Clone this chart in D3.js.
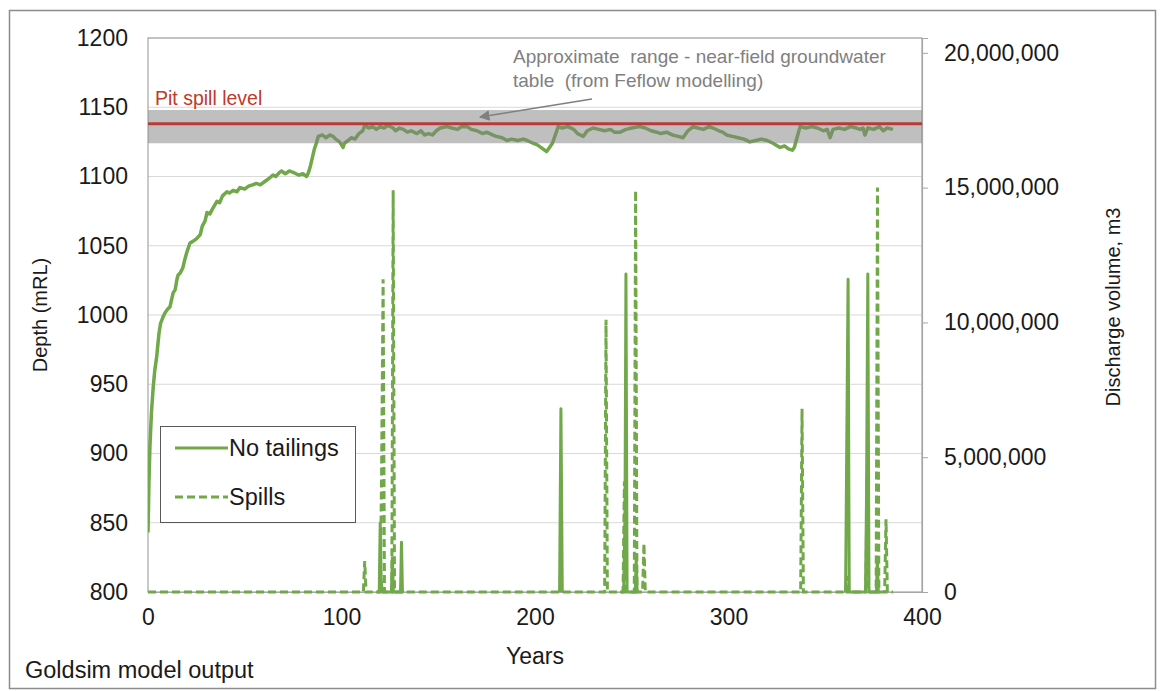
<!DOCTYPE html>
<html>
<head>
<meta charset="utf-8">
<script src="https://cdn.jsdelivr.net/npm/d3@7"></script>
<style>
  body { margin: 0; background: #fff; }
  svg text { font-family: Arial, "Liberation Sans", sans-serif; }
</style>
</head>
<body>
<div class="canvas"></div>
<script>
// depth of pit lake, no tailings case (mRL)
const depthYears = [0,0.5,1,1.8,2.7,3.5,4.5,5.2,5.7,6.5,7.9,9,10,11.4,12,13,14,15,15.6,16.5,18,19,20,21.7,23,25,27,28,29.5,30.5,32,33.5,35.6,37,38.5,40.8,42,44,46,47.5,50,52,54,56,58,60,62,64.6,66,68,69,71,73,75,76.5,78,80,82,83,84,85,86,87,88,90,92,94,95.6,97,99,100.8,101.5,103.4,105,107,109,111,112,114,116,118,120,122,124,126.6,128,130,132,134,136,139,141,143,145,147,149,151,154.5,157,160,162,165,167,170,173,175,178,180,183,185.5,188,191,194,196,199,201,203,205,206,207.5,209,210.5,212,214,217,220,222,225,227,230,233,236,239,241,244,247,250,254,257,260,263,265,268,271,274,276.5,279,281.7,284,287,290,292,295,297,299,302,305,308,311,314,317,320,323,326.6,329,331,333,334,335,336,337,340,343,346,349,351,352.5,354,357,360,363,366,368,369.5,370.5,372,375,378,380,382,385];
const depthVals = [843,880,905,930,948,960,970,980,987,994,999,1002,1004,1006,1010,1016,1018,1026,1029,1030,1034,1040,1045,1052,1053,1055,1058,1064,1068,1074,1073,1077,1082,1081,1086,1089,1088,1090,1089,1092,1091,1093,1094,1095,1094,1096,1098,1101,1100,1103,1104,1102,1104,1103,1102,1101,1102,1100,1103,1108,1114,1120,1124,1129,1130,1128,1130,1129,1127,1125,1121,1124,1126,1128,1127,1131,1133,1137,1135,1136,1134,1136,1135,1137,1135,1133,1135,1134,1132,1133,1131,1133,1130,1131,1130,1133,1135,1136,1135,1134,1136,1136,1134,1133,1131,1132,1130,1129,1128,1126,1127,1126,1127,1126,1124,1123,1121,1119,1118,1121,1124,1130,1136,1135,1136,1134,1131,1129,1133,1135,1134,1133,1134,1132,1132,1134,1135,1136,1135,1133,1132,1131,1132,1130,1129,1128,1133,1136,1135,1134,1136,1135,1133,1132,1130,1129,1128,1127,1125,1126,1127,1126,1124,1121,1122,1120,1119,1121,1126,1131,1136,1135,1136,1135,1133,1134,1128,1134,1135,1134,1136,1135,1134,1135,1130,1135,1134,1136,1133,1135,1134];

// discharge, no tailings (solid), null = not plotted
const dischYears = [118,119.5,120,120.5,121,125.8,126.3,126.8,130.5,131,131.5,132,132.5,212.7,213.4,214.1,214.5,244,245.8,246.5,247,247.6,251.8,252.3,252.8,253,253.5,360.5,361.8,362.4,370.8,371.3,372,372.6,376.5,376.9,377.4,378];
const dischVals = [0,0,2550000,500000,0,0,1270000,0,0,1850000,0,0,null,0,6800000,0,null,0,0,2700000,11800000,0,0,1250000,0,0,null,0,11600000,0,0,3300000,11800000,0,0,1300000,0,0];

// spills (dashed)
const spillYears = [0,111.3,112,112.7,120,120.7,121.5,122.2,126,126.7,127.4,236,236.7,237.4,245.5,246.2,246.9,251.3,252,252.7,255.6,256.3,257,337.3,338,338.7,360.6,361,361.4,371,371.6,372.2,376.3,377,377.7,380.7,381.4,382.1,385];
const spillVals = [0,0,1150000,0,0,4200000,11600000,0,0,14900000,0,0,10100000,0,0,4100000,0,0,14900000,0,0,1800000,0,0,6800000,0,0,600000,0,0,4200000,0,0,15000000,0,0,2700000,0,0];

const depthTicks = [800,850,900,950,1000,1050,1100,1150,1200];
const volTicks = [0,5000000,10000000,15000000,20000000];
const yearTicks = [0,100,200,300,400];
const spillLevel = 1138;
const gwRange = [1124, 1148];

const dims = { width: 1161, height: 691 };
const plot = { left: 148, right: 922, top: 38, bottom: 592 };
const green = '#70a84a';

const svg = d3.select('.canvas')
    .append('svg')
    .attr('width', dims.width)
    .attr('height', dims.height);

// outer frame
svg.append('rect')
    .attr('x', 9.5).attr('y', 10.5)
    .attr('width', 1146).attr('height', 678)
    .attr('fill', '#fff')
    .attr('stroke', '#8c8c8c')
    .attr('stroke-width', 1.5);

const x = d3.scaleLinear().domain([0, 400]).range([plot.left, plot.right]);
const yL = d3.scaleLinear().domain([800, 1200]).range([plot.bottom, plot.top]);
const yR = d3.scaleLinear().domain([0, 20550000]).range([plot.bottom, plot.top]);

// gridlines
svg.append('g')
    .selectAll('line')
    .data(depthTicks.slice(1))
    .enter().append('line')
        .attr('x1', plot.left).attr('x2', plot.right)
        .attr('y1', d => yL(d)).attr('y2', d => yL(d))
        .attr('stroke', '#d9d9d9')
        .attr('stroke-width', 1.2);

// plot area border
svg.append('rect')
    .attr('x', plot.left).attr('y', plot.top)
    .attr('width', plot.right - plot.left)
    .attr('height', plot.bottom - plot.top)
    .attr('fill', 'none')
    .attr('stroke', '#a6a6a6')
    .attr('stroke-width', 1.2);

// axes
const leftAxis = svg.append('g')
    .attr('transform', `translate(${plot.left},0)`)
    .call(d3.axisLeft(yL).tickValues(depthTicks).tickSize(0).tickPadding(20).tickFormat(d3.format('d')));

const rightAxis = svg.append('g')
    .attr('transform', `translate(${plot.right},0)`)
    .call(d3.axisRight(yR).tickValues(volTicks).tickSize(6).tickPadding(16).tickFormat(d3.format(',')));

const bottomAxis = svg.append('g')
    .attr('transform', `translate(0,${plot.bottom})`)
    .call(d3.axisBottom(x).tickValues(yearTicks).tickSize(0).tickPadding(17).tickFormat(d3.format('d')));

[leftAxis, rightAxis, bottomAxis].forEach(a => {
    a.select('.domain').attr('stroke', '#a6a6a6').attr('stroke-width', 1.2);
    a.selectAll('.tick line').attr('stroke', '#a6a6a6');
    a.selectAll('text')
        .attr('fill', '#1a1a1a')
        .style('font-size', '23px');
});
leftAxis.select('.domain').remove();

// series
const depthLine = d3.line()
    .x(d => x(d[0]))
    .y(d => yL(d[1]));

const volLine = d3.line()
    .defined(d => d[1] !== null)
    .x(d => x(d[0]))
    .y(d => yR(d[1]));

svg.append('clipPath').attr('id', 'plotclip')
    .append('rect')
    .attr('x', plot.left).attr('y', plot.top)
    .attr('width', plot.right - plot.left)
    .attr('height', plot.bottom - plot.top + 4);

const series = svg.append('g').attr('clip-path', 'url(#plotclip)');

series.append('path')
    .datum(spillYears.map((yr, i) => [yr, spillVals[i]]))
    .attr('d', volLine)
    .attr('fill', 'none')
    .attr('stroke', green)
    .attr('stroke-width', 3)
    .attr('stroke-dasharray', '8,4');

series.append('path')
    .datum(dischYears.map((yr, i) => [yr, dischVals[i]]))
    .attr('d', volLine)
    .attr('fill', 'none')
    .attr('stroke', green)
    .attr('stroke-width', 3)
    .attr('stroke-linejoin', 'round');

series.append('path')
    .datum(depthYears.map((yr, i) => [yr, depthVals[i]]))
    .attr('d', depthLine)
    .attr('fill', 'none')
    .attr('stroke', green)
    .attr('stroke-width', 3.5)
    .attr('stroke-linejoin', 'round');

// groundwater range band and spill level
svg.append('rect')
    .attr('x', plot.left)
    .attr('y', yL(gwRange[1]))
    .attr('width', plot.right - plot.left)
    .attr('height', yL(gwRange[0]) - yL(gwRange[1]))
    .attr('fill', '#7f7f7f')
    .attr('fill-opacity', 0.5);

svg.append('line')
    .attr('x1', plot.left).attr('x2', plot.right)
    .attr('y1', yL(spillLevel)).attr('y2', yL(spillLevel))
    .attr('stroke', '#b83b3b')
    .attr('stroke-width', 3);

svg.append('text')
    .attr('x', 155).attr('y', 105)
    .attr('fill', '#c0392b')
    .style('font-size', '19.5px')
    .text('Pit spill level');

// annotation
svg.append('defs').append('marker')
    .attr('id', 'arrow')
    .attr('viewBox', '0 0 10 10')
    .attr('refX', 9).attr('refY', 5)
    .attr('markerWidth', 7).attr('markerHeight', 7)
    .attr('orient', 'auto')
    .append('path')
        .attr('d', 'M0,0 L10,5 L0,10 z')
        .attr('fill', '#7f7f7f');

svg.append('line')
    .attr('x1', 592).attr('y1', 99)
    .attr('x2', 480).attr('y2', 117)
    .attr('stroke', '#7f7f7f')
    .attr('stroke-width', 1.5)
    .attr('marker-end', 'url(#arrow)');

const note = svg.append('text')
    .attr('fill', '#808080')
    .style('font-size', '19px')
    .style('white-space', 'pre');
note.append('tspan').attr('x', 513).attr('y', 63).text('Approximate  range - near-field groundwater');
note.append('tspan').attr('x', 513).attr('y', 87).text('table  (from Feflow modelling)');

// legend
const legend = svg.append('g');
legend.append('rect')
    .attr('x', 160.5).attr('y', 426.5)
    .attr('width', 195).attr('height', 96)
    .attr('fill', '#fff')
    .attr('stroke', '#595959')
    .attr('stroke-width', 1);

const legendItems = [
    { name: 'No tailings', dash: null, y: 448 },
    { name: 'Spills', dash: '8,4', y: 497 }
];
legendItems.forEach(item => {
    legend.append('line')
        .attr('x1', 175).attr('x2', 228)
        .attr('y1', item.y).attr('y2', item.y)
        .attr('stroke', green)
        .attr('stroke-width', 3)
        .attr('stroke-dasharray', item.dash);
    legend.append('text')
        .attr('x', 229).attr('y', item.y + 8)
        .attr('fill', '#1a1a1a')
        .style('font-size', '23.5px')
        .text(item.name);
});

// axis titles
svg.append('text')
    .attr('x', 535).attr('y', 664)
    .attr('text-anchor', 'middle')
    .attr('fill', '#1a1a1a')
    .style('font-size', '23px')
    .text('Years');

svg.append('text')
    .attr('transform', 'translate(47,315) rotate(-90)')
    .attr('text-anchor', 'middle')
    .attr('fill', '#1a1a1a')
    .style('font-size', '20px')
    .text('Depth (mRL)');

svg.append('text')
    .attr('transform', 'translate(1120,307) rotate(-90)')
    .attr('text-anchor', 'middle')
    .attr('fill', '#1a1a1a')
    .style('font-size', '20px')
    .text('Discharge volume, m3');

svg.append('text')
    .attr('x', 25).attr('y', 678)
    .attr('fill', '#1a1a1a')
    .style('font-size', '23.5px')
    .text('Goldsim model output');
</script>
</body>
</html>
